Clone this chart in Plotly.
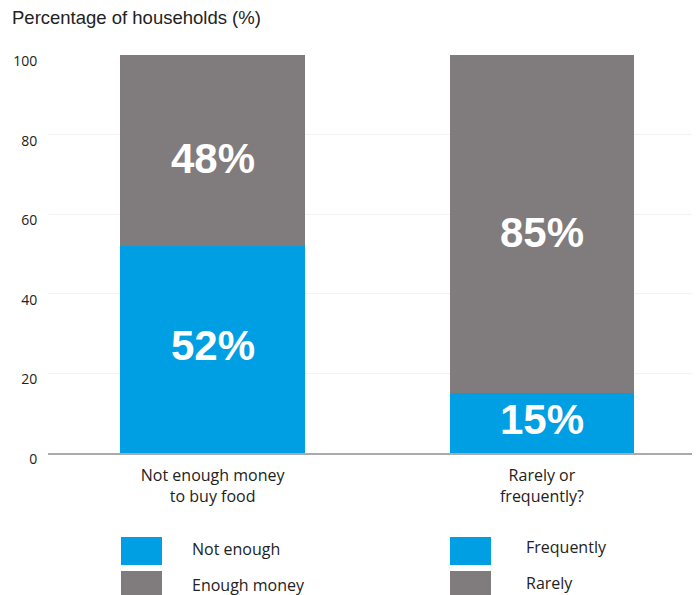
import plotly.graph_objects as go

# ---- data ----
categories = ["Not enough money<br>to buy food", "Rarely or<br>frequently?"]
lower_names = ["Not enough", "Frequently"]
upper_names = ["Enough money", "Rarely"]
lower_values = [52, 15]
upper_values = [48, 85]
y_ticks = [0, 20, 40, 60, 80, 100]
title_text = "Percentage of households (%)"

BLUE = "#009FE3"
GREY = "#807B7C"
TEXT = "#222222"

# The page body has an 8px margin, so the figure is 8px smaller and offsets are
# expressed in screenshot pixels minus 8.
OFF = 8
W, H = 700 - OFF, 595 - OFF
L, R, T, B = 48 - OFF, 0, 55 - OFF, 142

fig = go.Figure()
fig.add_trace(go.Bar(
    x=categories, y=lower_values, name="lower",
    marker=dict(color=BLUE, line=dict(width=0)),
    showlegend=False, hoverinfo="x+y",
))
fig.add_trace(go.Bar(
    x=categories, y=upper_values, name="upper",
    marker=dict(color=GREY, line=dict(width=0)),
    showlegend=False, hoverinfo="x+y",
))

# value labels, positioned from the data (segment middles)
label_font = dict(family="Liberation Sans", size=42, color="white", weight="bold")
for cat, lo, up in zip(categories, lower_values, upper_values):
    fig.add_annotation(x=cat, y=lo / 2, text=f"{lo}%", showarrow=False,
                       yshift=4, font=label_font)
    fig.add_annotation(x=cat, y=lo + up / 2, text=f"{up}%", showarrow=False,
                       yshift=-8, font=label_font)

# ---- custom two-column legend (screenshot pixel positions -> paper coords) ----
pw, ph = W - L - R, H - T - B
def px_x(x):
    return (x - OFF - L) / pw
def px_y(y):
    return (H - B - (y - OFF)) / ph

legend_cols = [
    (121, 190, lower_names[0], upper_names[0]),
    (450, 524, lower_names[1], upper_names[1]),
]
for sx, tx, n_low, n_up in legend_cols:
    for (y0, y1, ty, name, col) in [
        (537, 565, 549 if sx < 300 else 547, n_low, BLUE),
        (571, 599, 585 if sx < 300 else 583, n_up, GREY),
    ]:
        fig.add_shape(type="rect", xref="paper", yref="paper",
                      x0=px_x(sx), x1=px_x(sx + 41), y0=px_y(y0), y1=px_y(y1),
                      fillcolor=col, line=dict(width=0), layer="above")
        fig.add_annotation(xref="paper", yref="paper", x=px_x(tx), y=px_y(ty),
                           xanchor="left", yanchor="middle", text=name,
                           showarrow=False,
                           font=dict(family="Open Sans", size=16, color=TEXT))

fig.update_layout(
    width=W, height=H,
    margin=dict(l=L, r=R, t=T, b=B, pad=0, autoexpand=False),
    barmode="stack", bargap=0.44,
    plot_bgcolor="white", paper_bgcolor="white",
    title=dict(text=title_text, x=(12 - OFF) / W, xanchor="left", xref="container",
               y=1 - (18 - OFF) / H, yanchor="middle", yref="container",
               font=dict(family="Liberation Sans", size=18.5, color=TEXT)),
    xaxis=dict(range=[-0.5, 1.48], showgrid=False, showline=True,
               linecolor="#AAAAAA", linewidth=1.5, ticks="outside",
               ticklen=7, tickcolor="rgba(0,0,0,0)",
               tickfont=dict(family="Open Sans", size=16, color=TEXT)),
    yaxis=dict(range=[0, 100], tickvals=y_ticks, showgrid=True,
               gridcolor="#F3F3F3", gridwidth=1, zeroline=False,
               ticks="outside", ticklen=7, tickcolor="rgba(0,0,0,0)",
               ticklabelshift=6,
               tickfont=dict(family="Open Sans", size=14, color=TEXT)),
)

fig.write_html("out.html")
